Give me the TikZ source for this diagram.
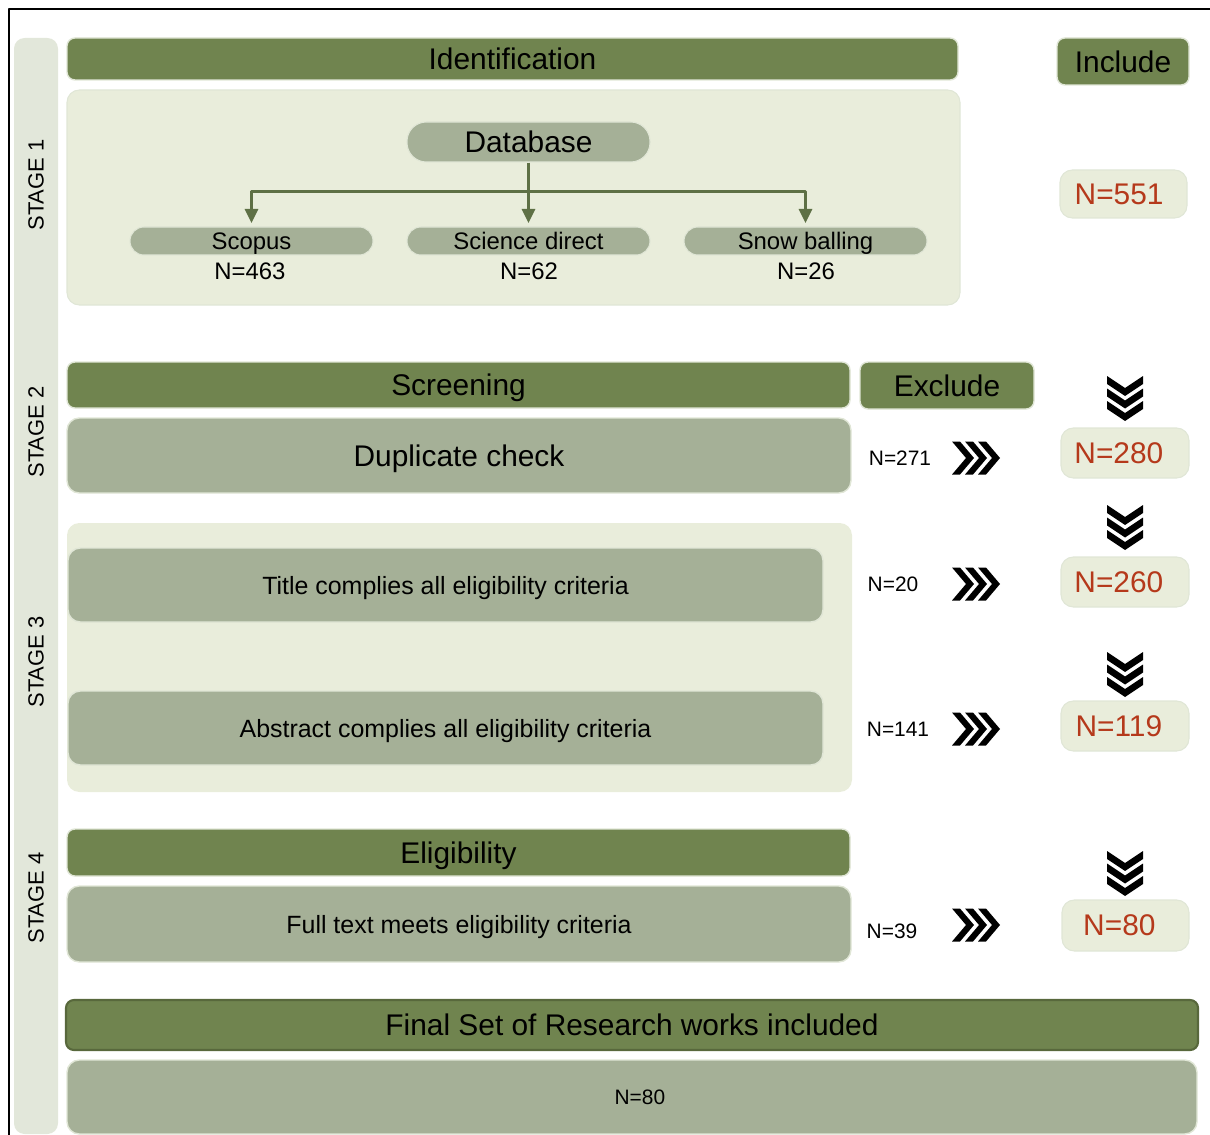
\documentclass[tikz,border=0pt]{standalone}
\usepackage{fontspec}
\setmainfont{Liberation Sans}
\usetikzlibrary{arrows.meta}
\definecolor{dgreen}{RGB}{112,132,79}
\definecolor{ggreen}{RGB}{165,176,151}
\definecolor{lgreen}{RGB}{233,237,219}
\definecolor{sgreen}{RGB}{226,231,218}
\definecolor{agreen}{RGB}{94,112,69}
\definecolor{nred}{RGB}{181,57,27}
\definecolor{rim}{RGB}{224,230,214}
\definecolor{frim}{RGB}{88,104,60}
\begin{document}
\begin{tikzpicture}[x=0.02cm, y=-0.02cm, line join=round, >={Triangle[width=7.5pt,length=8pt]},
  sz/.style 2 args={minimum width=#1*0.02cm, minimum height=#2*0.02cm, inner sep=0pt, text depth=0pt},
  big/.style={font=\fontsize{17}{20}\selectfont},
  mid/.style={font=\fontsize{14.2}{17}\selectfont},
  sml/.style={font=\fontsize{13.6}{16}\selectfont},
  xn/.style={font=\fontsize{11.9}{14}\selectfont},
  head/.style={fill=dgreen, draw=rim, line width=0.8pt, rounded corners=4.5pt, big},
  gbox/.style={fill=ggreen, draw=rim, line width=0.8pt, rounded corners=7pt},
  lbox/.style={fill=lgreen, rounded corners=7pt},
  pill/.style={fill=ggreen, draw=rim, line width=0.6pt, rounded corners=#1},
  cnt/.style={fill=lgreen, draw=rim, line width=0.6pt, rounded corners=7pt, text=nred, big},
  stg/.style={rotate=90, font=\fontsize{12.5}{15}\selectfont},
  arr/.style={->, agreen, line width=1.4pt, shorten >=2pt},
  rchev/.pic={\foreach \ofs in {-10,3,16} \fill (\ofs-14,-16.5) -- (\ofs-6,-16.5) -- (\ofs+8,0) -- (\ofs-6,16.5) -- (\ofs-14,16.5) -- (\ofs,0) -- cycle;},
  dchev/.pic={\foreach \ofs in {-10,2.5,15} \fill (-18,\ofs-12) -- (0,\ofs) -- (18,\ofs-12) -- (18,\ofs-4) -- (0,\ofs+8) -- (-18,\ofs-4) -- cycle;}]
\clip (0,0) rectangle (1210,1135);
\draw[line width=1.1pt] (9,1140) -- (9,9) -- (1215,9);
\fill[sgreen, rounded corners=6pt] (14,38) rectangle (58,1134);
\node[stg] (stg1) at (36,185) {STAGE 1};
\node[stg] (stg2) at (36,432) {STAGE 2};
\node[stg] (stg3) at (36,662) {STAGE 3};
\node[stg] (stg4) at (36,898) {STAGE 4};
% Stage 1
\node[head, sz={891}{42}] (ident) at (512.5,59) {Identification};
\node[lbox, draw=rim, line width=0.6pt, sz={893}{215}] (box1) at (513.5,197.5) {};
\node[pill=11pt, sz={243}{40}, big] (db) at (528.5,142) {Database};
\node[pill=7.9pt, sz={243}{28}, sml] (scop) at (251.5,241) {Scopus};
\node[pill=7.9pt, sz={243}{28}, sml] (sci) at (528.5,241) {Science direct};
\node[pill=7.9pt, sz={243}{28}, sml] (snow) at (805.5,241) {Snow balling};
\node[sml] (nscop) at (250,271) {N=463};
\node[sml] (nsci) at (529,271) {N=62};
\node[sml] (nsnow) at (806,271) {N=26};
\path (db.south) ++(0,29) coordinate (split);
\draw[arr] (db) -- (sci);
\draw[arr] (split) -| (scop);
\draw[arr] (split) -| (snow);
\node[head, sz={132}{47}] (incl) at (1123,61.5) {Include};
\node[cnt, sz={127}{48}] (n551) at (1123.5,194) {\hspace{-5pt}N=551};
% Stage 2
\node[head, sz={783}{46}] (scr) at (458.5,385) {Screening};
\node[head, sz={174}{47}] (excl) at (947,385.5) {Exclude};
\node[gbox, sz={784}{75}, big] (dup) at (459,455.5) {Duplicate check};
\node[xn] (x271) at (900,458) {N=271};
\pic at (976,458) {rchev};
\pic at (1125,398) {dchev};
\node[cnt, sz={128}{50}] (n280) at (1125,453) {\hspace{-7pt}N=280};
% Stage 3
\node[lbox, sz={785}{269}] (box3) at (459.5,657.5) {};
\node[gbox, sz={755}{74}, mid] (title) at (445.5,585) {Title complies all eligibility criteria};
\node[gbox, sz={755}{74}, mid] (abst) at (445.5,728) {Abstract complies all eligibility criteria};
\node[xn] (x20) at (893,584) {N=20};
\node[xn] (x141) at (898,729) {N=141};
\pic at (976,584) {rchev};
\pic at (976,729) {rchev};
\pic at (1125,527) {dchev};
\pic at (1125,674) {dchev};
\node[cnt, sz={128}{50}] (n260) at (1125,582) {\hspace{-7pt}N=260};
\node[cnt, sz={128}{50}] (n119) at (1125,726) {\hspace{-7pt}N=119};
% Stage 4
\node[head, sz={783}{47}] (elig) at (458.5,852.5) {Eligibility};
\node[gbox, sz={784}{76}, mid] (full) at (459,924) {Full text meets eligibility criteria};
\node[xn] (x39) at (892,931) {N=39};
\pic at (976,925) {rchev};
\pic at (1125,873) {dchev};
\node[cnt, sz={127}{51}] (n80) at (1125.5,925.5) {\hspace{-7pt}N=80};
\node[head, draw=frim, line width=1.2pt, sz={1132}{50}] (final) at (632,1025) {Final Set of Research works included};
\node[gbox, sz={1130}{74}, xn] (nfin) at (632,1097) {\hspace{9pt}N=80};
\end{tikzpicture}
\end{document}
